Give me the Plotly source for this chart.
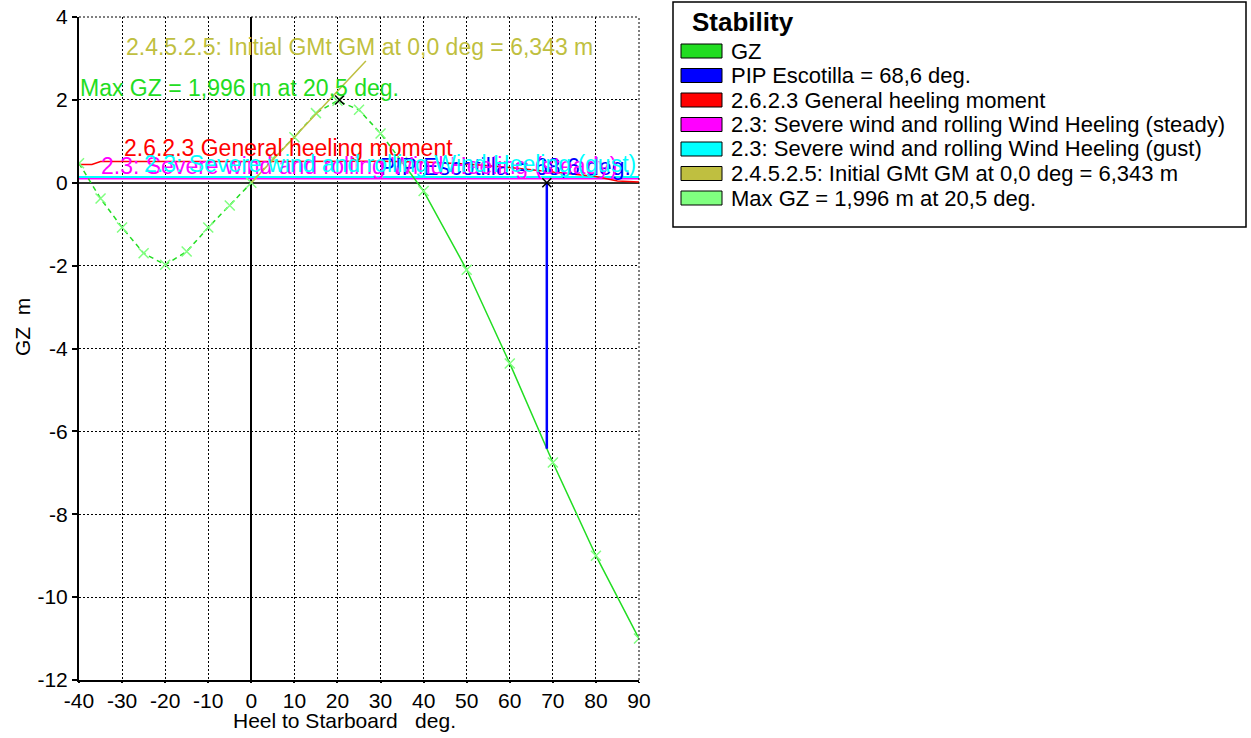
import plotly.graph_objects as go

# ---------------- data ----------------
heel = [-40, -35, -30, -25, -20, -15, -10, -5, 0, 5, 10, 15, 20, 25, 30, 35, 40, 50, 60, 70, 80, 90]
gz = [0.47, -0.38, -1.08, -1.70, -1.98, -1.66, -1.08, -0.55, 0.0, 0.58, 1.10, 1.68, 1.98, 1.76, 1.19, 0.50,
      -0.20, -2.10, -4.36, -6.75, -9.00, -11.00]
gz_solid_from = 35  # GZ drawn dashed up to this heel, solid after

heel_general = [-40, -37, -35, 0, 30, 40, 50, 60, 70, 75, 80, 85, 90]
arm_general = [0.44, 0.44, 0.51, 0.52, 0.52, 0.50, 0.45, 0.37, 0.26, 0.21, 0.15, 0.04, 0.02]

heel_wind = [-40, 90]
arm_steady = [0.10, 0.10]
arm_gust = [0.14, 0.14]

gm_heel = [0.0, 26.6]
gm_gz = [0.0, 2.94]

max_gz_heel = [20.5]
max_gz_val = [1.996]

pip_heel = [68.6, 68.6]
pip_gz = [-6.42, 0.0]

legend_labels = [
    "GZ",
    "PIP Escotilla = 68,6 deg.",
    "2.6.2.3 General heeling moment",
    "2.3: Severe wind and rolling Wind Heeling (steady)",
    "2.3: Severe wind and rolling Wind Heeling (gust)",
    "2.4.5.2.5: Initial GMt GM at 0,0 deg = 6,343 m",
    "Max GZ = 1,996 m at 20,5 deg.",
]
x_ticks = list(range(-40, 91, 10))
y_ticks = list(range(-12, 5, 2))
x_title = "Heel to Starboard   deg."
y_title = "GZ  m"

# ---------------- styles ----------------
C_GZ = "#22DD22"
C_PIP = "#0000FF"
C_RED = "#FF0000"
C_MAG = "#FF00FF"
C_CYAN = "#00FFFF"
C_OLIVE = "#BFBF40"
C_LGREEN = "#80FF80"
legend_colors = [C_GZ, C_PIP, C_RED, C_MAG, C_CYAN, C_OLIVE, C_LGREEN]
FONT = "Arial"

fig = go.Figure()

fig.add_trace(go.Scatter(x=heel_wind, y=arm_steady, mode="lines",
                         line=dict(color=C_MAG, width=2), showlegend=False))
fig.add_trace(go.Scatter(x=heel_wind, y=arm_gust, mode="lines",
                         line=dict(color=C_CYAN, width=2), showlegend=False))
fig.add_trace(go.Scatter(x=heel_general, y=arm_general, mode="lines",
                         line=dict(color=C_RED, width=1.5), showlegend=False))

dashed_x = [h for h in heel if h <= gz_solid_from]
dashed_y = [g for h, g in zip(heel, gz) if h <= gz_solid_from]
solid_x = [h for h in heel if h >= gz_solid_from]
solid_y = [g for h, g in zip(heel, gz) if h >= gz_solid_from]
fig.add_trace(go.Scatter(x=dashed_x, y=dashed_y, mode="lines",
                         line=dict(color=C_GZ, width=1.5, dash="5px,4px"), showlegend=False))
fig.add_trace(go.Scatter(x=solid_x, y=solid_y, mode="lines",
                         line=dict(color=C_GZ, width=1.5), showlegend=False))
fig.add_trace(go.Scatter(x=heel, y=gz, mode="markers",
                         marker=dict(symbol="x-thin", size=10, line=dict(color=C_LGREEN, width=1.5)),
                         showlegend=False))

fig.add_trace(go.Scatter(x=gm_heel, y=gm_gz, mode="lines",
                         line=dict(color=C_OLIVE, width=1.5), showlegend=False))
fig.add_trace(go.Scatter(x=pip_heel, y=pip_gz, mode="lines",
                         line=dict(color=C_PIP, width=2.5), showlegend=False))
fig.add_trace(go.Scatter(x=max_gz_heel + [pip_heel[1]], y=max_gz_val + [pip_gz[1]], mode="markers",
                         marker=dict(symbol="x-thin", size=9, line=dict(color="black", width=1.5)),
                         showlegend=False))

# ---------------- in-plot labels ----------------
ann = []
def label(x, y, text, color, anchor="left"):
    ann.append(dict(x=x, y=y, xref="x", yref="y", text=text, showarrow=False,
                    xanchor=anchor, yanchor="middle", borderpad=0,
                    font=dict(family=FONT, size=23, color=color)))

label(-29.4, 3.28, legend_labels[5], C_OLIVE)
label(-40.0, 2.29, legend_labels[6], C_GZ)
label(-29.8, 0.84, legend_labels[2], C_RED)
label(29.6, 0.38, legend_labels[1], C_PIP)
label(-35.2, 0.41, legend_labels[3], C_MAG)
label(-25.2, 0.45, legend_labels[4], C_CYAN)

# ---------------- layout helpers (screen pixels -> paper) ----------------
L, R, T, B = 79, 639, 17, 680          # plot area in pixels
FIG_W, FIG_H = 1251, 738
def px(xp):
    return (xp - L) / (R - L)
def py(yp):
    return (B - yp) / (B - T)

# axis titles, placed where the reference has them
ann.append(dict(xref="paper", yref="paper", x=px(344), y=py(720), text=x_title,
                showarrow=False, xanchor="center", yanchor="middle", borderpad=0,
                font=dict(family=FONT, size=21, color="black")))
ann.append(dict(xref="paper", yref="paper", x=px(22), y=py(327), text=y_title, textangle=-90,
                showarrow=False, xanchor="center", yanchor="middle", borderpad=0,
                font=dict(family=FONT, size=21, color="black")))

shapes = [
    # dotted top and right frame (gridlines at the range edges)
    dict(type="line", xref="paper", yref="paper", x0=0, x1=1, y0=1, y1=1,
         line=dict(color="black", width=1, dash="2px,2px")),
    dict(type="line", xref="paper", yref="paper", x0=1, x1=1, y0=0, y1=1,
         line=dict(color="black", width=1, dash="2px,2px")),
    dict(type="rect", xref="paper", yref="paper",
         x0=px(673), x1=px(1246), y0=py(227), y1=py(2),
         line=dict(color="black", width=1.5), fillcolor="white", layer="above"),
]
ann.append(dict(xref="paper", yref="paper", x=px(691), y=py(22), text="<b>Stability</b>",
                showarrow=False, xanchor="left", yanchor="middle", borderpad=0,
                font=dict(family=FONT, size=26, color="black")))
row0, step = 51, 24.5
for i, (lab, col) in enumerate(zip(legend_labels, legend_colors)):
    cy = row0 + i * step
    shapes.append(dict(type="rect", xref="paper", yref="paper",
                       x0=px(681), x1=px(722), y0=py(cy + 7), y1=py(cy - 7),
                       line=dict(color="black", width=1), fillcolor=col, layer="above"))
    ann.append(dict(xref="paper", yref="paper", x=px(730), y=py(cy), text=lab,
                    showarrow=False, xanchor="left", yanchor="middle", borderpad=0,
                    font=dict(family=FONT, size=22, color="black")))

axis_common = dict(
    showgrid=True, gridcolor="black", gridwidth=1, griddash="2px,2px",
    showline=True, linecolor="black", linewidth=2,
    tickcolor="black", tickwidth=1.5,
    tickfont=dict(family=FONT, size=21, color="black"),
    zeroline=True, zerolinewidth=2, automargin=False,
    ticklabeloverflow="allow",
)

fig.update_layout(
    width=FIG_W, height=FIG_H,
    margin=dict(l=L, r=FIG_W - R, t=T, b=FIG_H - B, pad=0, autoexpand=False),
    paper_bgcolor="white", plot_bgcolor="white",
    showlegend=False,
    hovermode=False,
    xaxis=dict(range=[-40, 90], tickvals=x_ticks, ticktext=[str(v) for v in x_ticks],
               ticks="outside", ticklen=1, zerolinecolor="black", **axis_common),
    yaxis=dict(range=[-12, 4], tickvals=y_ticks, ticktext=[str(v) for v in y_ticks],
               ticks="outside", ticklen=5, zerolinecolor="#333333", **axis_common),
    annotations=ann,
    shapes=shapes,
)

# remove the page's default 8px body margin so the figure fills the window exactly
fig.write_html("out.html", config={"displayModeBar": False},
               post_script="document.body.style.margin='0';document.body.style.overflow='hidden';")
